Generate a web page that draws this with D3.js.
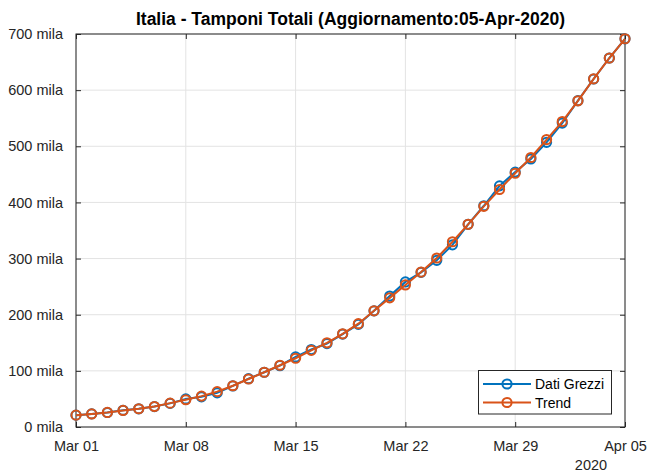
<!DOCTYPE html>
<html><head><meta charset="utf-8">
<script src="https://cdn.jsdelivr.net/npm/d3@7"></script>
<style>body{margin:0;background:#fff;}svg{display:block;font-family:"Liberation Sans",Arial,Helvetica,sans-serif;}</style>
</head><body><svg id="c" width="647" height="474"></svg>
<script>
const titleText = "Italia - Tamponi Totali (Aggiornamento:05-Apr-2020)";
const dates = ["2020-03-01","2020-03-02","2020-03-03","2020-03-04","2020-03-05","2020-03-06","2020-03-07","2020-03-08","2020-03-09","2020-03-10","2020-03-11","2020-03-12","2020-03-13","2020-03-14","2020-03-15","2020-03-16","2020-03-17","2020-03-18","2020-03-19","2020-03-20","2020-03-21","2020-03-22","2020-03-23","2020-03-24","2020-03-25","2020-03-26","2020-03-27","2020-03-28","2020-03-29","2020-03-30","2020-03-31","2020-04-01","2020-04-02","2020-04-03","2020-04-04","2020-04-05"];
const datiGrezzi = [21127,23345,25856,29837,32362,36359,42062,49937,53826,60761,73154,86011,97488,109170,124899,137962,148657,165541,182777,206886,233222,258402,275468,296964,324445,361060,394079,429526,454030,477359,506968,541314,581232,619849,657224,691461];
const trend = [21100,23300,25900,29500,32500,36500,42500,48500,55000,63000,73500,85500,97500,110000,122500,136500,150000,166000,184000,207000,230000,253000,276000,301000,330000,361000,393000,423000,452000,480000,512000,544000,581000,620000,657000,691500];
const seriesNames = ["Dati Grezzi","Trend"];
const seriesColors = ["#0072BD","#D95319"];
const yTicks = [0,100000,200000,300000,400000,500000,600000,700000];
const yTickLabels = ["0 mila","100 mila","200 mila","300 mila","400 mila","500 mila","600 mila","700 mila"];
const xTicks = ["2020-03-01","2020-03-08","2020-03-15","2020-03-22","2020-03-29","2020-04-05"];
const xTickLabels = ["Mar 01","Mar 08","Mar 15","Mar 22","Mar 29","Apr 05"];
const yearLabel = "2020";

const parse = d3.timeParse("%Y-%m-%d");
const svg = d3.select("#c");
const L = 76, R = 625, T = 34, B = 427;
const x = d3.scaleTime().domain([parse(dates[0]), parse(dates[dates.length-1])]).range([L, R]);
const y = d3.scaleLinear().domain([0, 700000]).range([B, T]);
const axCol = "#262626", gridCol = "#e3e3e3";

// grid
const g = svg.append("g");
g.selectAll(".gx").data(xTicks).join("line")
  .attr("x1", d => x(parse(d))).attr("x2", d => x(parse(d)))
  .attr("y1", T).attr("y2", B).attr("stroke", gridCol).attr("stroke-width", 1);
g.selectAll(".gy").data(yTicks).join("line")
  .attr("x1", L).attr("x2", R)
  .attr("y1", d => y(d)).attr("y2", d => y(d)).attr("stroke", gridCol).attr("stroke-width", 1);

// axes (ticks inward)
const tickFont = "14.5px";
const yAxis = d3.axisLeft(y).tickValues(yTicks).tickSize(-5).tickPadding(13)
  .tickFormat((d,i) => yTickLabels[i]);
const yAxisR = d3.axisRight(y).tickValues(yTicks).tickSize(-5).tickFormat("");
const xAxis = d3.axisBottom(x).tickValues(xTicks.map(parse)).tickSize(-5).tickPadding(14)
  .tickFormat((d,i) => xTickLabels[i]);
const xAxisT = d3.axisTop(x).tickValues(xTicks.map(parse)).tickSize(-5).tickFormat("");
function styleAxis(sel){
  sel.select(".domain").remove();
  sel.selectAll("line").attr("stroke", axCol).attr("stroke-width", 1);
  sel.selectAll("text").attr("fill", axCol).style("font-size", tickFont);
}
svg.append("g").attr("transform", `translate(${L},0)`).call(yAxis).call(styleAxis);
svg.append("g").attr("transform", `translate(${R},0)`).call(yAxisR).call(styleAxis);
svg.append("g").attr("transform", `translate(0,${B})`).call(xAxis).call(styleAxis);
svg.append("g").attr("transform", `translate(0,${T})`).call(xAxisT).call(styleAxis);
svg.append("rect").attr("x", L).attr("y", T).attr("width", R-L).attr("height", B-T)
  .attr("fill", "none").attr("stroke", axCol).attr("stroke-width", 1);

svg.append("text").attr("x", 591).attr("y", 470).attr("text-anchor", "middle")
  .attr("fill", axCol).style("font-size", tickFont).text(yearLabel);

// title
svg.append("text").attr("x", (L+R)/2).attr("y", 25).attr("text-anchor", "middle")
  .attr("fill", "#000").style("font-size", "17.5px").style("font-weight", "bold").text(titleText);

// series
const allSeries = [datiGrezzi, trend];
const line = d3.line().x(d => x(d.t)).y(d => y(d.v));
allSeries.forEach((vals, si) => {
  const data = vals.map((v,i) => ({t: parse(dates[i]), v}));
  svg.append("path").datum(data).attr("d", line).attr("fill", "none")
    .attr("stroke", seriesColors[si]).attr("stroke-width", 2);
  svg.append("g").selectAll("circle").data(data).join("circle")
    .attr("cx", d => x(d.t)).attr("cy", d => y(d.v)).attr("r", 4.6)
    .attr("fill", "none").attr("stroke", seriesColors[si]).attr("stroke-width", 2);
});

// legend
const lg = svg.append("g");
lg.append("rect").attr("x", 478.5).attr("y", 370.5).attr("width", 133).attr("height", 43.5)
  .attr("fill", "#fff").attr("stroke", axCol).attr("stroke-width", 1);
seriesNames.forEach((n, i) => {
  const yy = 384 + i*18.5;
  lg.append("line").attr("x1", 483).attr("x2", 531).attr("y1", yy).attr("y2", yy)
    .attr("stroke", seriesColors[i]).attr("stroke-width", 2);
  lg.append("circle").attr("cx", 507).attr("cy", yy).attr("r", 4.6).attr("fill", "none")
    .attr("stroke", seriesColors[i]).attr("stroke-width", 2);
  lg.append("text").attr("x", 535).attr("y", yy + 5).attr("fill", "#000")
    .style("font-size", "14px").text(n);
});
</script></body></html>
